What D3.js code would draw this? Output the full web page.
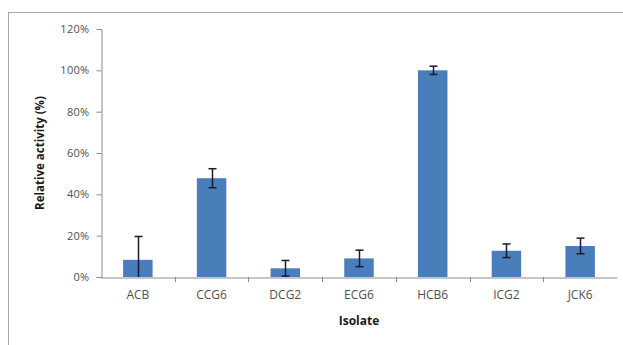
<!DOCTYPE html>
<html>
<head>
<meta charset="utf-8">
<script src="https://cdn.jsdelivr.net/npm/d3@7"></script>
<style>
  html, body { margin: 0; padding: 0; background: #fff; }
  svg { display: block; }
  text { font-family: "Open Sans", "Noto Sans", sans-serif; }
</style>
</head>
<body>
<svg id="chart" width="623" height="345"></svg>
<script>
// Relative enzyme activity per isolate (mean and error, in %)
const isolates = ["ACB", "CCG6", "DCG2", "ECG6", "HCB6", "ICG2", "JCK6"];
const activity = [8.3, 47.8, 4.2, 9.0, 100, 12.7, 15.0];
const errors   = [11.3, 4.6, 3.8, 4.0, 2.0, 3.3, 3.8];
const yTicks   = [0, 20, 40, 60, 80, 100, 120];

const svg = d3.select("#chart");
const W = 623, H = 345;
const m = { left: 101, right: 6, top: 29, bottom: 68 };

// chart frame
svg.append("rect")
  .attr("x", 8.5).attr("y", 12.5)
  .attr("width", W + 10).attr("height", H + 10)
  .attr("fill", "#fff").attr("stroke", "#a6a6a6").attr("stroke-width", 1);

const x = d3.scaleBand().domain(isolates)
  .range([m.left, W - m.right]).paddingInner(0.6).paddingOuter(0.3);
const xOuter = d3.scaleBand().domain(isolates).range([m.left, W - m.right]);
const y = d3.scaleLinear().domain([0, 120]).range([H - m.bottom, m.top]);

const axisColor = "#8c8c8c";
const textColor = "#505050";

// y axis
const yAxis = svg.append("g")
  .attr("transform", `translate(${m.left + 0.5},0)`)
  .call(d3.axisLeft(y).tickValues(yTicks).tickFormat(d => d + "%").tickSize(5).tickPadding(7));
yAxis.select(".domain").attr("stroke", axisColor);
yAxis.selectAll(".tick line").attr("stroke", axisColor);
yAxis.selectAll(".tick text").attr("fill", textColor).style("font-size", "11px")
  .style("letter-spacing", "0.3px");

// bars
const barColor = "#4a7ebb";
svg.append("g").selectAll("rect")
  .data(isolates)
  .join("rect")
  .attr("x", d => x(d))
  .attr("width", x.bandwidth())
  .attr("y", (d, i) => y(activity[i]))
  .attr("height", (d, i) => y(0) - y(activity[i]))
  .attr("fill", barColor);

// x axis (drawn over bar bases)
const xAxis = svg.append("g")
  .attr("transform", `translate(0,${y(0) + 0.5})`)
  .call(d3.axisBottom(xOuter).tickSize(0).tickPadding(13));
xAxis.select(".domain").attr("stroke", axisColor);
xAxis.selectAll(".tick text").attr("fill", textColor).style("font-size", "12px");
// category separator ticks
svg.append("g").selectAll("line")
  .data(isolates.slice(1))
  .join("line")
  .attr("x1", d => Math.round(xOuter(d)) + 0.5)
  .attr("x2", d => Math.round(xOuter(d)) + 0.5)
  .attr("y1", y(0)).attr("y2", y(0) + 5)
  .attr("stroke", axisColor);

// error bars
const eb = svg.append("g").attr("stroke", "#1a1a2e").attr("stroke-width", 1.5);
isolates.forEach((d, i) => {
  const cx = Math.round(x(d) + x.bandwidth() / 2) + 0.5;
  const hi = activity[i] + errors[i];
  const lo = Math.max(0, activity[i] - errors[i]);
  eb.append("line").attr("x1", cx).attr("x2", cx).attr("y1", y(hi)).attr("y2", y(lo));
  eb.append("line").attr("x1", cx - 4).attr("x2", cx + 4).attr("y1", y(hi)).attr("y2", y(hi));
  if (activity[i] - errors[i] > 0) {
    eb.append("line").attr("x1", cx - 4).attr("x2", cx + 4).attr("y1", y(lo)).attr("y2", y(lo));
  }
});

// axis titles
svg.append("text")
  .attr("x", (m.left + W - m.right) / 2).attr("y", 325)
  .attr("text-anchor", "middle").attr("fill", "#1a1a1a")
  .style("font-size", "12px").style("font-weight", "bold")
  .text("Isolate");

svg.append("text")
  .attr("transform", `translate(44,${(y(0) + y(120)) / 2}) rotate(-90)`)
  .attr("text-anchor", "middle").attr("fill", "#1a1a1a")
  .style("font-size", "11.5px").style("font-weight", "bold")
  .text("Relative activity (%)");
</script>
</body>
</html>
